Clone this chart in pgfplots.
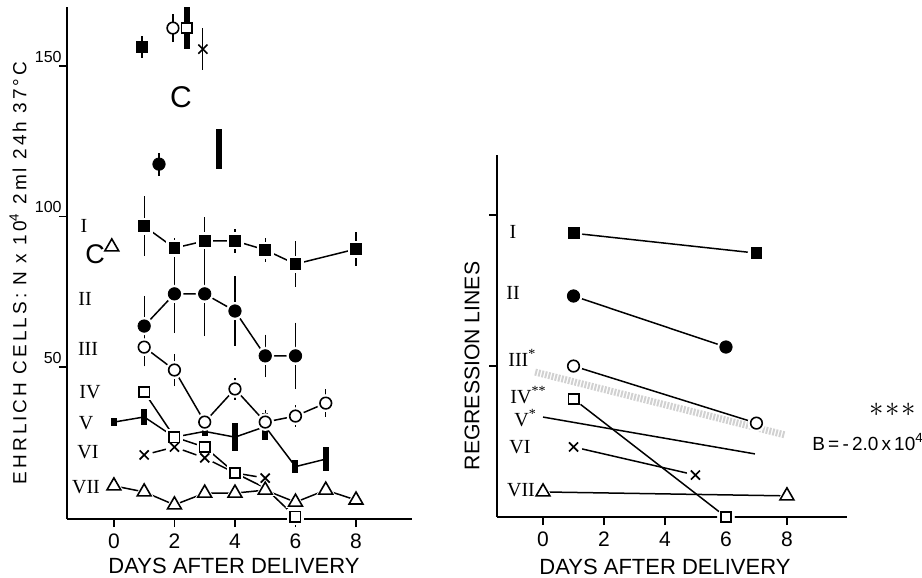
\documentclass[border=0pt]{standalone}
\usepackage{fontspec}
\setmainfont{Liberation Sans}
\newfontfamily\romfont{Liberation Serif}
\newfontfamily\spfont[LetterSpace=16]{Liberation Sans}
\usepackage{pgfplots}
\usepackage{pgfplotstable}
\pgfplotsset{compat=1.18}

% left panel: days, cell count, error
\pgfplotstableread{
x y e
1 96.8 10
2 89.5 3.3
3 91.9 8
4 91.9 4
5 88.9 4
6 84.2 7.7
8 89.2 5.7
}\tI
\pgfplotstableread{
x y e
1 63.6 9
2 74.3 12
3 74.3 13
4 68.6 10.5
5 53.7 6
6 53.7 10
}\tII
\pgfplotstableread{
x y e
1 56.6 5.3
2 49.0 4.3
3 31.7 0
4 42.7 2.5
5 31.7 3
6 33.7 2.5
7 38.0 3.5
}\tIII
\pgfplotstableread{
x y e
1 41.7 0
2 26.7 0
3 23.4 0
4 14.8 0
5 9.8 0
6 0.2 0
}\tIV
\pgfplotstableread{
x y e
0 31.7 1.2
1 33.4 2.8
2 26.7 0
3 28.6 1.5
4 26.7 4.65
5 30.2 4.5
6 16.9 2.2
7 19.4 4
}\tV
\pgfplotstableread{
x y e
1 20.8 2.5
2 23.4 3
3 19.8 0
4 14.8 0
5 13.1 0
}\tVI
\pgfplotstableread{
x y
0 10.5
1 8.5
2 4.2
3 8.1
4 8.1
5 9.1
6 5.1
7 9.1
8 5.8
}\tVII

\pgfplotsset{
  base/.style={
    scale only axis, clip=false,
    axis lines=left, axis line style={-, line width=0.9pt},
    tick align=outside, major tick length=4pt,
    tick style={line width=0.9pt, black},
    xtick={0,2,4,6,8}, ytick={50,100,150},
    /pgf/number format/assume math mode=true,
    xticklabel style={font=\fontsize{10.5}{12}\selectfont},
    yticklabel style={font=\fontsize{8}{9}\selectfont, anchor=south east, inner sep=0.5pt, xshift=2pt, yshift=1pt},
  },
  ln/.style={no markers, line width=0.75pt, black, forget plot},
  halo/.style={only marks, forget plot, mark size=#1, mark options={draw=white, fill=white}},
  eb/.style={draw=none, no markers, forget plot, error bars/.cd, y dir=both, y explicit,
    error bar style={line width=0.6pt, draw=black}, error mark=-,
    error mark options={line width=0.6pt, draw=black, mark size=1.6pt}},
  ebnc/.style={draw=none, no markers, forget plot, error bars/.cd, y dir=both, y explicit,
    error bar style={line width=0.6pt, draw=black}, error mark=none},
  bar/.style={draw=none, no markers, forget plot, error bars/.cd, y dir=both, y explicit,
    error bar style={line width=3pt, draw=black}, error mark=none},
  msqf/.style={only marks, mark=square*, mark size=2.7pt, mark options={draw=black, fill=black}},
  mcf/.style={only marks, mark=*, mark size=3.1pt, mark options={draw=black, fill=black}},
  mco/.style={only marks, mark=*, mark size=2.9pt, mark options={draw=black, fill=white, line width=0.8pt}},
  msqo/.style={only marks, mark=square*, mark size=2.6pt, mark options={draw=black, fill=white, line width=0.8pt}},
  mtri/.style={only marks, mark=triangle*, mark size=4pt, mark options={draw=black, fill=white, line width=0.8pt}},
  mx/.style={only marks, mark=x, mark size=3.2pt, mark options={draw=black, line width=0.85pt}},
}

\begin{document}
\begin{tikzpicture}
\path[use as bounding box] (0,0) rectangle (461pt,-289pt);

\begin{axis}[base,
  at={(33.5pt,-259.5pt)}, anchor=south west,
  width=172.5pt, height=256pt,
  xmin=-1.55, xmax=9.85, ymin=-0.5, ymax=169.6]

% lines
\addplot[ln] table {\tI};
\addplot[ln] table {\tII};
\addplot[ln] table {\tIII};
\addplot[ln] table {\tIV};
\addplot[ln] table {\tV};
\addplot[ln] table {\tVI};
\addplot[ln] table {\tVII};

% gaps round the marks
\addplot[halo=4pt, mark=square*] table {\tI};
\addplot[halo=4.3pt, mark=*] table {\tII};
\addplot[halo=4.2pt, mark=*] table {\tIII};
\addplot[halo=3.9pt, mark=square*, mark indices={1,2,3,4,6}] table {\tIV};
\addplot[halo=4.2pt, mark=*, mark indices={1,2,3,5}] table {\tVI};
\addplot[halo=5.3pt, mark=triangle*] table {\tVII};
\addplot[halo=5.3pt, mark=triangle*] coordinates {(-0.07,89.9)};

% error bars
\addplot[ebnc] table[y error=e] {\tI};
\addplot[eb] table[y error=e] {\tII};
\addplot[eb] table[y error=e] {\tIII};
\addplot[ebnc] table[y error=e] {\tVI};
\addplot[bar] table[y error=e] {\tV};
\addplot[bar, error bar style={line width=2.4pt}] coordinates {(1,41.7) +- (0,2.6)};
% control group (C)
\addplot[ebnc] coordinates {(0.93,156.3) +- (0,3.8) (1.49,117.4) +- (0,3.8)};
\addplot[eb] coordinates {(1.95,162.6) +- (0,3.6) (2.94,155.6) +- (0,5.8)};
\addplot[bar] coordinates {(2.41,162.6) +- (0,7) (3.47,122.4) +- (0,6.6)};

% marks
\addplot[msqf, forget plot] table {\tI};
\addplot[mcf, forget plot] table {\tII};
\addplot[mco, forget plot] table {\tIII};
\addplot[msqo, forget plot, mark indices={1,2,3,4,6}] table {\tIV};
\addplot[mx, forget plot, mark indices={1,2,3,5}] table {\tVI};
\addplot[mtri, forget plot] table {\tVII};
\addplot[msqf, forget plot] coordinates {(0.93,156.3)};
\addplot[mcf, forget plot] coordinates {(1.49,117.4)};
\addplot[mco, forget plot] coordinates {(1.95,162.6)};
\addplot[msqo, forget plot] coordinates {(2.41,162.6)};
\addplot[mx, forget plot] coordinates {(2.94,155.6)};
\addplot[mtri, forget plot] coordinates {(-0.07,89.9)};
\end{axis}

\begin{axis}[base,
  at={(248.5pt,-258.5pt)}, anchor=south west,
  width=175pt, height=181pt,
  xmin=-1.51, xmax=9.97, ymin=0, ymax=119.9,
  yticklabels={}]

% pooled line (faint, stippled)
\addplot[ln, line width=3.5pt, black!18, dash pattern=on 1pt off 0.7pt] coordinates {(-0.26,48) (7.93,27.2)};
% regression lines
\addplot[ln] coordinates {(1,94.0) (7,87.4)};
\addplot[ln] coordinates {(1,73.2) (6,56.3)};
\addplot[ln] coordinates {(1,50.0) (7,31.1)};
\addplot[ln] coordinates {(1,39.1) (6,0)};
\addplot[ln] coordinates {(0,33.1) (6.95,20.9)};
\addplot[ln] coordinates {(1,23.2) (5,13.9)};
\addplot[ln] coordinates {(0,8.3) (8,7.0)};

\addplot[halo=4.2pt, mark=*] coordinates {(1,94.0) (7,87.4) (1,73.2) (6,56.3) (1,50.0) (7,31.1) (1,39.1) (6,0) (1,23.2) (5,13.9)};
\addplot[halo=5.3pt, mark=triangle*] coordinates {(0,8.3) (8,7.0)};

\addplot[msqf, forget plot] coordinates {(1,94.0) (7,87.4)};
\addplot[mcf, forget plot] coordinates {(1,73.2) (6,56.3)};
\addplot[mco, forget plot] coordinates {(1,50.0) (7,31.1)};
\addplot[msqo, forget plot] coordinates {(1,39.1) (6,0)};
\addplot[mx, forget plot] coordinates {(1,23.2) (5,13.9)};
\addplot[mtri, forget plot] coordinates {(0,8.3) (8,7.0)};
\end{axis}

\begin{scope}[x=0.5pt, y=-0.5pt]
% axis titles
\node[rotate=90] at (18,273) {\spfont\fontsize{9.5}{11}\selectfont EHRLICH CELLS: N x 10\textsuperscript{4} 2ml 24h 37°C};
\node at (234,566) {\fontsize{11}{13}\selectfont DAYS AFTER DELIVERY};
\node at (665,567) {\fontsize{11}{13}\selectfont DAYS AFTER DELIVERY};
\node[rotate=90] at (472,366) {\fontsize{10.6}{12}\selectfont REGRESSION LINES};
% control labels
\node at (181,97) {\fontsize{15}{17}\selectfont C};
\node at (95,254) {\fontsize{13.5}{15}\selectfont C};
% group numerals, left
\begin{scope}[font=\romfont\fontsize{10}{12}\selectfont]
\node at (84,226) {I};
\node at (85,299) {II};
\node at (88,349) {III};
\node at (90,392) {IV};
\node at (86,423) {V};
\node at (88,452) {VI};
\node at (86,487) {VII};
% right
\node at (513,232) {I};
\node at (513,293) {II};
\node[anchor=west, inner sep=0pt] at (508,358) {III\rlap{\textsuperscript{*}}};
\node[anchor=west, inner sep=0pt] at (510,395) {IV\rlap{\textsuperscript{**}}};
\node[anchor=west, inner sep=0pt] at (514,418) {V\rlap{\textsuperscript{*}}};
\node at (520,447) {VI};
\node at (521,490) {VII};
\end{scope}
\node[inner sep=0pt] at (893,410) {\fontsize{14}{16}\selectfont$\ast\!\ast\!\ast$};
\node[anchor=west, inner sep=0pt] at (812,442) {\fontsize{9.5}{11}\selectfont B\,=\,-\,2.0\,x\,10\textsuperscript{4}};
\end{scope}
\end{tikzpicture}
\end{document}
